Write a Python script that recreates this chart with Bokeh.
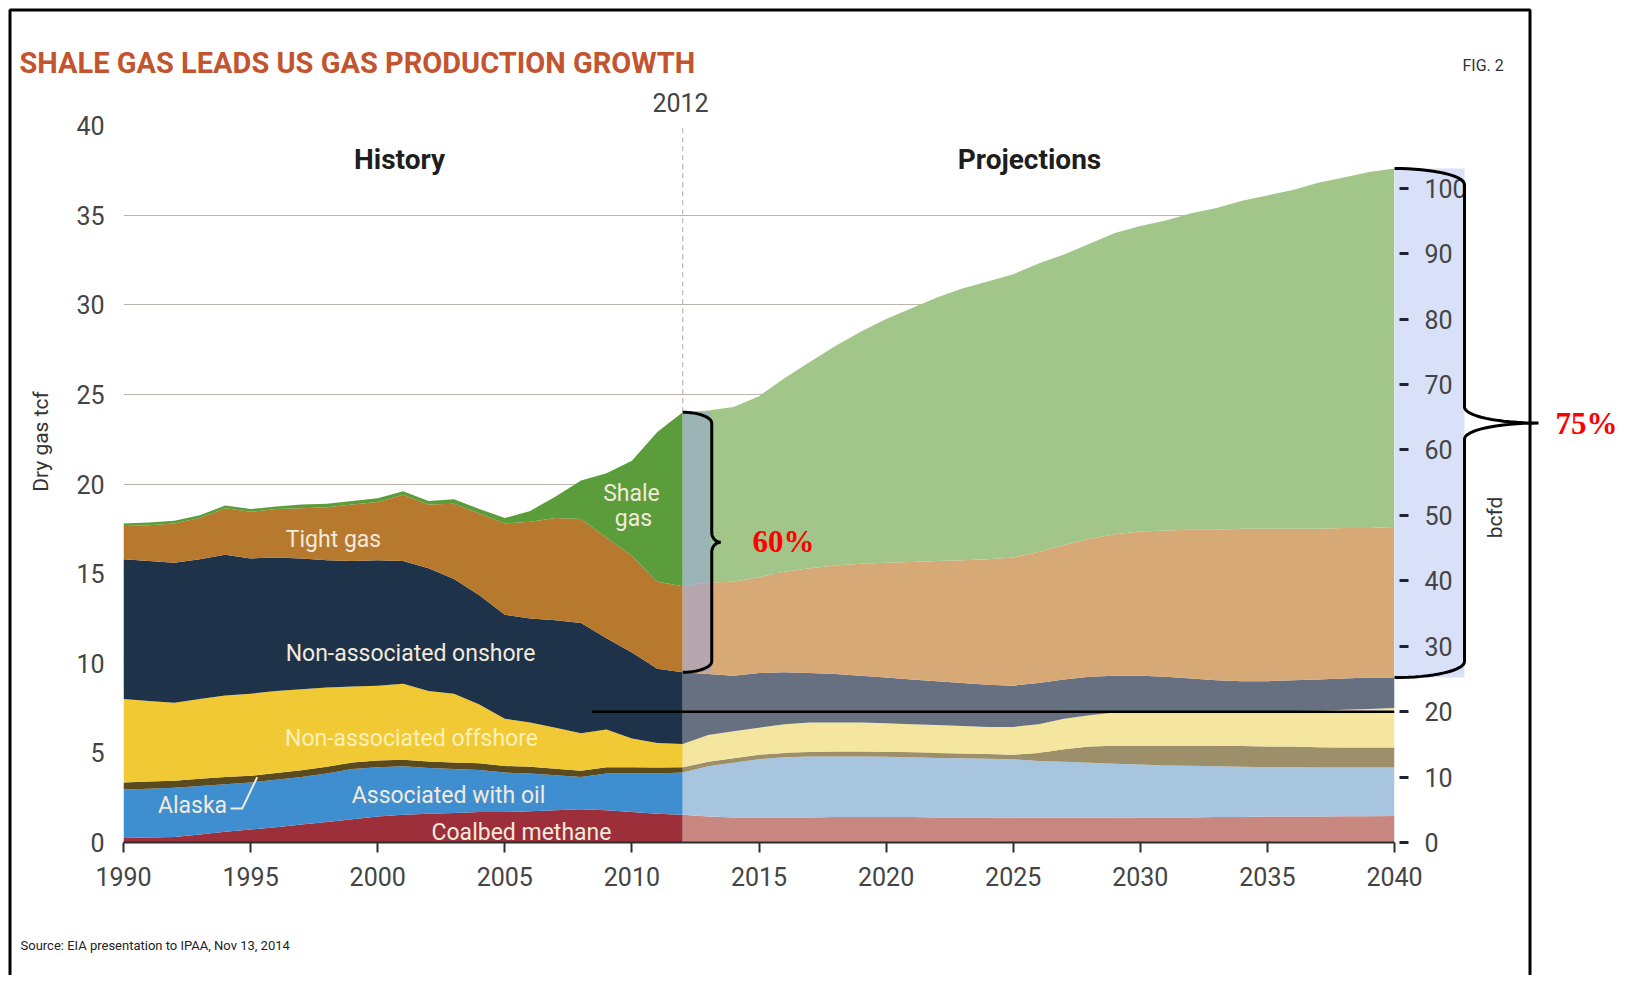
import math
from bokeh.plotting import figure
from bokeh.models import (ColumnDataSource, Range1d, LinearAxis, FixedTicker, Label)
from bokeh.core.properties import value
from bokeh.embed import file_html
from bokeh.resources import INLINE

# ---------------- data (dry gas, tcf) ----------------
hist_years = list(range(1990, 2013))
hist_coalbed = [0.25, 0.28, 0.30, 0.45, 0.60, 0.73, 0.85, 1.00, 1.15, 1.30, 1.45, 1.55,
                1.60, 1.65, 1.70, 1.70, 1.75, 1.80, 1.85, 1.80, 1.70, 1.60, 1.55]
hist_assoc = [2.70, 2.72, 2.75, 2.70, 2.65, 2.62, 2.65, 2.65, 2.70, 2.80, 2.75, 2.70,
              2.55, 2.45, 2.35, 2.20, 2.10, 1.95, 1.80, 2.05, 2.15, 2.25, 2.35]
hist_alaska = [0.40, 0.40, 0.40, 0.40, 0.40, 0.37, 0.38, 0.38, 0.38, 0.37, 0.37, 0.37,
               0.37, 0.37, 0.37, 0.37, 0.37, 0.37, 0.35, 0.35, 0.35, 0.33, 0.30]
hist_offshore = [4.65, 4.50, 4.35, 4.45, 4.55, 4.58, 4.57, 4.52, 4.42, 4.23, 4.18, 4.23,
                 3.93, 3.83, 3.28, 2.63, 2.48, 2.28, 2.10, 2.10, 1.60, 1.37, 1.30]
hist_onshore = [7.80, 7.80, 7.80, 7.80, 7.85, 7.55, 7.45, 7.30, 7.10, 7.00, 7.00, 6.85,
                6.85, 6.40, 6.10, 5.80, 5.80, 6.00, 6.15, 5.10, 4.80, 4.15, 4.00]
hist_tight = [1.85, 2.00, 2.20, 2.30, 2.60, 2.60, 2.70, 2.80, 2.95, 3.15, 3.25, 3.70,
              3.55, 4.20, 4.55, 5.10, 5.40, 5.70, 5.80, 5.60, 5.40, 4.85, 4.80]
hist_shale = [0.15, 0.15, 0.15, 0.15, 0.15, 0.15, 0.15, 0.20, 0.20, 0.20, 0.20, 0.20,
              0.20, 0.25, 0.25, 0.30, 0.60, 1.20, 2.15, 3.60, 5.30, 8.35, 9.70]

proj_years = list(range(2012, 2041))
proj_coalbed = [1.55, 1.45, 1.40, 1.40, 1.40, 1.40, 1.42, 1.42, 1.42, 1.42, 1.40, 1.40,
                1.40, 1.38, 1.38, 1.38, 1.38, 1.38, 1.40, 1.40, 1.40, 1.42, 1.42, 1.45,
                1.45, 1.45, 1.47, 1.47, 1.48]
proj_assoc = [2.35, 2.80, 3.05, 3.25, 3.35, 3.40, 3.38, 3.38, 3.36, 3.33, 3.32, 3.30,
              3.27, 3.26, 3.17, 3.12, 3.07, 3.02, 2.95, 2.90, 2.88, 2.83, 2.80, 2.75,
              2.75, 2.73, 2.71, 2.71, 2.70]
proj_alaska = [0.30, 0.25, 0.25, 0.25, 0.25, 0.25, 0.28, 0.28, 0.28, 0.28, 0.28, 0.27,
               0.27, 0.26, 0.45, 0.70, 0.90, 1.00, 1.05, 1.10, 1.12, 1.15, 1.16, 1.15,
               1.15, 1.14, 1.12, 1.12, 1.12]
proj_offshore = [1.30, 1.50, 1.50, 1.50, 1.60, 1.65, 1.62, 1.62, 1.59, 1.57, 1.55, 1.53,
                 1.51, 1.55, 1.60, 1.70, 1.75, 1.85, 1.90, 1.90, 1.90, 1.92, 1.94, 1.97,
                 1.98, 2.03, 2.10, 2.15, 2.20]
proj_onshore = [4.00, 3.40, 3.10, 3.05, 2.90, 2.75, 2.70, 2.60, 2.55, 2.50, 2.45, 2.40,
                2.35, 2.30, 2.30, 2.20, 2.15, 2.05, 2.00, 1.95, 1.85, 1.73, 1.68, 1.68,
                1.72, 1.75, 1.75, 1.75, 1.70]
proj_tight = [4.80, 5.10, 5.25, 5.35, 5.60, 5.85, 6.05, 6.25, 6.40, 6.55, 6.70, 6.85,
              7.00, 7.15, 7.30, 7.50, 7.70, 7.90, 8.05, 8.15, 8.30, 8.40, 8.50, 8.50,
              8.45, 8.40, 8.40, 8.35, 8.40]
proj_shale = [9.70, 9.60, 9.75, 10.10, 10.80, 11.50, 12.25, 12.95, 13.60, 14.15, 14.70,
              15.15, 15.50, 15.80, 16.10, 16.20, 16.45, 16.80, 17.05, 17.30, 17.65, 17.95,
              18.30, 18.60, 18.90, 19.30, 19.55, 19.85, 20.00]

series = ["coalbed", "assoc", "alaska", "offshore", "onshore", "tight", "shale"]
hist_colors = ["#9d2f3b", "#3f8ed0", "#5c4a1f", "#f1c934", "#1e3249", "#b7792e", "#5b9c3b"]
proj_colors = ["#c8877f", "#a8c5df", "#9c8f69", "#f4e59f", "#667080", "#d7a977", "#a2c589"]

x_ticks = list(range(1990, 2041, 5))
y_ticks = list(range(0, 41, 5))
bcfd_ticks = list(range(0, 101, 10))
bcfd_line_value = 20

FONT = "Roboto"

# ---------------- geometry (page pixels) ----------------
W, H = 1625, 975
BL, BR, BT, BB = 123, 231, 125, 133
FW = W - BL - BR
FH = H - BT - BB
X0, X1 = 1990, 2040
Y0, Y1 = 0, 40
BCFD_MAX = Y1 * 1000 / 365.0


def FX(px):
    return X0 + (px - BL) / FW * (X1 - X0)


def FY(py):
    return Y0 + (BT + FH - py) / FH * (Y1 - Y0)


def PX(x):
    return BL + (x - X0) / (X1 - X0) * FW


def PY(v):
    return BT + FH - (v - Y0) / (Y1 - Y0) * FH


def brace(x_end, x_body, x_tip, y_top, y_bot, r, r2, n=16):
    ym = (y_top + y_bot) / 2.0
    pts = []
    for i in range(n + 1):
        t = i / n * math.pi / 2
        pts.append((x_end + (x_body - x_end) * math.sin(t), y_top + r * (1 - math.cos(t))))
    for i in range(n + 1):
        t = i / n * math.pi / 2
        pts.append((x_body + (x_tip - x_body) * (1 - math.cos(t)), ym - r2 + r2 * math.sin(t)))
    for i in range(n + 1):
        t = i / n * math.pi / 2
        pts.append((x_tip - (x_tip - x_body) * math.sin(t), ym + r2 * (1 - math.cos(t))))
    for i in range(n + 1):
        t = i / n * math.pi / 2
        pts.append((x_body - (x_body - x_end) * (1 - math.cos(t)), y_bot - r + r * math.sin(t)))
    return [FX(a) for a, b in pts], [FY(b) for a, b in pts]


# ---------------- figure ----------------
p = figure(width=W, height=H, x_range=Range1d(X0, X1), y_range=Range1d(Y0, Y1),
           output_backend="svg", toolbar_location=None,
           min_border_left=BL, min_border_right=BR, min_border_top=BT, min_border_bottom=BB)
p.extra_y_ranges = {"bcfd": Range1d(0, BCFD_MAX)}
p.outline_line_color = None
p.background_fill_color = "white"
p.border_fill_color = "white"

p.xgrid.visible = False
p.ygrid.ticker = FixedTicker(ticks=y_ticks)
p.ygrid.grid_line_color = "#bcb4ac"
p.ygrid.grid_line_width = 1

xa = p.xaxis[0]
xa.ticker = FixedTicker(ticks=x_ticks)
xa.major_label_text_font = FONT
xa.major_label_text_font_size = "25px"
xa.major_label_text_color = "#444444"
xa.axis_line_color = "#2e2e2e"
xa.axis_line_width = 2
xa.major_tick_line_color = "#2e2e2e"
xa.major_tick_line_width = 2
xa.major_tick_in = 0
xa.major_tick_out = 10
xa.minor_tick_line_color = None
xa.major_label_standoff = 14

ya = p.yaxis[0]
ya.ticker = FixedTicker(ticks=y_ticks)
ya.major_label_text_font = FONT
ya.major_label_text_font_size = "25px"
ya.major_label_text_color = "#444444"
ya.axis_line_color = None
ya.major_tick_line_color = None
ya.minor_tick_line_color = None
ya.major_label_standoff = 13

ra = LinearAxis(y_range_name="bcfd", ticker=FixedTicker(ticks=bcfd_ticks))
ra.major_label_text_font = FONT
ra.major_label_text_font_size = "25px"
ra.major_label_text_color = "#444444"
ra.axis_line_color = None
ra.major_tick_line_color = "#1c2433"
ra.major_tick_line_width = 3
ra.major_tick_in = -5
ra.major_tick_out = 14
ra.minor_tick_line_color = None
ra.major_label_standoff = 16
p.add_layout(ra, "right")

total_2040 = sum(v[-1] for v in [proj_coalbed, proj_assoc, proj_alaska, proj_offshore,
                                 proj_onshore, proj_tight, proj_shale])
onshore_top_2040 = total_2040 - proj_tight[-1] - proj_shale[-1]
total_2012 = sum(v[-1] for v in [hist_coalbed, hist_assoc, hist_alaska, hist_offshore,
                                 hist_onshore, hist_tight, hist_shale])
onshore_top_2012 = total_2012 - hist_tight[-1] - hist_shale[-1]

# blue highlight in the right margin (behind the right axis)
p.quad(left=[X1], right=[FX(PX(X1) + 70)], bottom=[onshore_top_2040], top=[total_2040],
       fill_color="#d9e1f8", line_color=None, level="guide")

# stacked areas
src_h = ColumnDataSource(dict(year=hist_years, coalbed=hist_coalbed, assoc=hist_assoc,
                              alaska=hist_alaska, offshore=hist_offshore,
                              onshore=hist_onshore, tight=hist_tight, shale=hist_shale))
src_p = ColumnDataSource(dict(year=proj_years, coalbed=proj_coalbed, assoc=proj_assoc,
                              alaska=proj_alaska, offshore=proj_offshore,
                              onshore=proj_onshore, tight=proj_tight, shale=proj_shale))
p.varea_stack(stackers=series, x="year", color=hist_colors, source=src_h)
p.varea_stack(stackers=series, x="year", color=proj_colors, source=src_p)

# 2012 divider
p.segment(x0=[hist_years[-1]], y0=[total_2012], x1=[hist_years[-1]], y1=[Y1],
          line_color="#a8a8a8", line_width=1, line_dash="5 4")

# highlight strip + brace at 2012
p.quad(left=[hist_years[-1]], right=[FX(PX(hist_years[-1]) + 28)],
       bottom=[onshore_top_2012], top=[total_2012],
       fill_color="#93a5e4", fill_alpha=0.5, line_color=None)
bx, by = brace(PX(hist_years[-1]), PX(hist_years[-1]) + 29, PX(hist_years[-1]) + 38,
               PY(total_2012), PY(onshore_top_2012), 11, 10)
p.line(bx, by, line_color="black", line_width=3)

# right brace (outside the frame)
rbx, rby = brace(PX(X1), PX(X1) + 70, PX(X1) + 144, PY(total_2040), PY(onshore_top_2040), 16, 16)
p.line(rbx, rby, line_color="black", line_width=3, level="overlay")

# 20 bcfd reference line
p.line([FX(591.5), X1], [bcfd_line_value, bcfd_line_value], y_range_name="bcfd",
       line_color="black", line_width=2.5)

# Alaska leader line
p.line([FX(230), FX(241.7), FX(256.7)], [FY(808), FY(808), FY(776.7)],
       line_color="#f2eadb", line_width=2)

# page border
p.line([FX(9.5), FX(9.5), FX(1529.5), FX(1529.5)], [FY(1200), FY(9.5), FY(9.5), FY(1200)],
       line_color="black", line_width=3, level="overlay")


def gtext(text, x, y, size, color, font=FONT, style="normal", align="center", angle=0.0):
    p.text(x=[FX(x)], y=[FY(y)], text=[text], text_font=value(font),
           text_font_size=value(size), text_font_style=value(style),
           text_color=color, text_align=value(align), text_baseline=value("middle"),
           angle=angle, level="overlay")


def lab(text, x, y, size, color, font=FONT, style="normal", align="center"):
    p.add_layout(Label(x=FX(x), y=FY(y), text=text, text_font=font, text_font_size=size,
                       text_color=color, text_font_style=style, text_align=align,
                       text_baseline="middle"))


gtext("SHALE GAS LEADS US GAS PRODUCTION GROWTH", 19, 62, "29px", "#c25530",
      style="bold", align="left")
gtext("FIG. 2", 1462, 65, "16px", "#333333", align="left")
gtext("2012", 680, 102, "25px", "#444444")
lab("History", 399, 159, "28px", "#1e1e1e", style="bold")
lab("Projections", 1029, 159, "28px", "#1e1e1e", style="bold")
gtext("Dry gas tcf", 40, 441, "21px", "#333333", angle=math.pi / 2)
gtext("bcfd", 1494, 517, "21px", "#333333", angle=math.pi / 2)
lab("60%", 752, 541, "31px", "#ff0000", font="Liberation Serif", style="bold", align="left")
gtext("75%", 1555, 423, "31px", "#ff0000", font="Liberation Serif", style="bold", align="left")
gtext("Source: EIA presentation to IPAA, Nov 13, 2014", 20, 945, "13px", "#222222",
      align="left")

inner = "#f2eadb"
lab("Tight gas", 333, 539, "23px", inner)
lab("Non-associated onshore", 410, 653, "23px", inner)
lab("Non-associated offshore", 411, 738, "23px", "#fbf1b8")
lab("Associated with oil", 448, 795, "23px", inner)
lab("Coalbed methane", 521, 832, "23px", inner)
lab("Alaska", 192, 805, "23px", inner)
lab("Shale", 631, 493, "23px", inner)
lab("gas", 633, 518, "23px", inner)

open("out.html", "w").write(file_html(p, INLINE))
